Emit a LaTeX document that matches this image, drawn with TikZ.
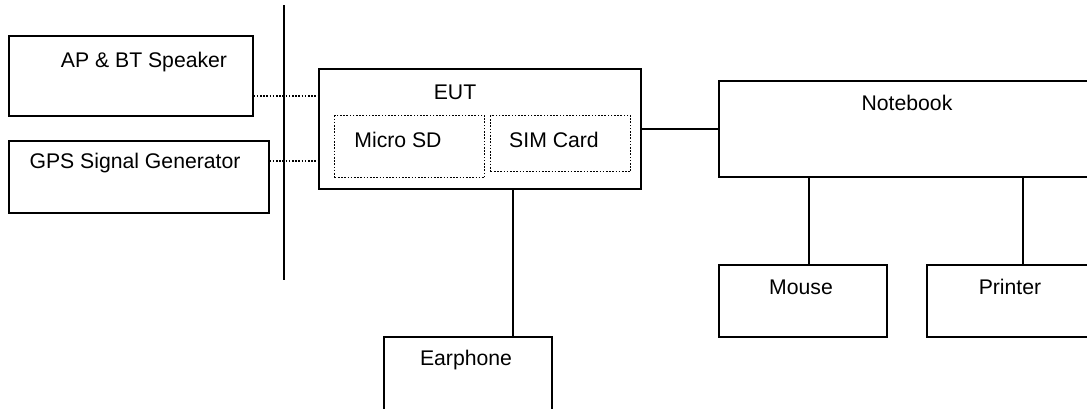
\documentclass[tikz,border=0pt]{standalone}
\usepackage{fontspec}
\setmainfont{Liberation Sans}
\usetikzlibrary{positioning}

\begin{document}
\begin{tikzpicture}[x=0.5pt, y=-0.5pt]
		% formatos
		\tikzstyle{every node}=[font=\fontsize{10.6}{12}\selectfont, inner sep=0pt]
		\tikzstyle{box} = [draw, line width=0.8pt, anchor=north west]
		\tikzstyle{slot} = [draw, line width=0.7pt, dash pattern=on 0.8pt off 0.8pt, anchor=north west]
		\tikzstyle{wire} = [line width=0.8pt]
		\tikzstyle{radio} = [line width=0.7pt, dash pattern=on 0.8pt off 0.8pt]
		\useasboundingbox (0,0) rectangle (1087,408);
		\clip (0,0) rectangle (1087,408);
		% nodos
		\node [box, minimum width=122pt, minimum height=40pt] (spk) at (8,35) {};
		\node [box, minimum width=130pt, minimum height=36pt] (gps) at (8,140) {};
		\node [box, minimum width=161pt, minimum height=60pt] (eut) at (318,68) {};
		\node [slot, minimum width=75pt, minimum height=31pt] (sd) at (334,115) {};
		\node [slot, minimum width=70pt, minimum height=28pt] (sim) at (490,115) {};
		\node [box, minimum width=200pt, minimum height=48pt] (nb) at (718,80) {};
		\node [box, minimum width=84pt, minimum height=36pt] (mouse) at (718,264) {};
		\node [box, minimum width=100pt, minimum height=36pt] (prn) at (926,264) {};
		\node [box, minimum width=84pt, minimum height=40pt] (ear) at (383,336) {};
		\coordinate (bustop) at (284,5);
		\coordinate (busbot) at (284,280);
		% textos
		\node at (144,62) {AP \& BT Speaker};
		\node at (135,163) {GPS Signal Generator};
		\node at (455,92) {EUT};
		\node at (398,140) {Micro SD};
		\node at (554,140) {SIM Card};
		\node at (907,103) {Notebook};
		\node at (801,287) {Mouse};
		\node at (1010,287) {Printer};
		\node at (466,360) {Earphone};
		% relaciones
		\draw [wire] (bustop) -- (busbot);
		\draw [radio] ([yshift=-10pt]spk.east) -- ([yshift=-10pt]spk.east -| eut.west);
		\draw [radio] ([yshift=8pt]gps.east) -- ([yshift=8pt]gps.east -| eut.west);
		\draw [wire] (eut.east) -- (nb.west);
		\draw [wire] ([xshift=3pt]mouse.north) -- ([xshift=3pt]mouse.north |- nb.south);
		\draw [wire] ([xshift=-2pt]prn.north) -- ([xshift=-2pt]prn.north |- nb.south);
		\draw [wire] ([xshift=22.5pt]ear.north) -- ([xshift=22.5pt]ear.north |- eut.south);
	\end{tikzpicture}
\end{document}
